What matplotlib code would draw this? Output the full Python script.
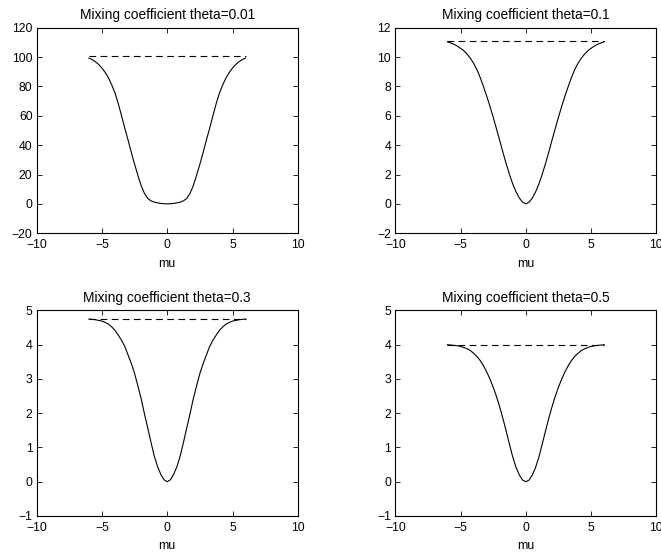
import matplotlib
matplotlib.use('Agg')
import matplotlib.pyplot as plt

#init plt style (matlab look)
plt.rcParams['font.family'] = ['Liberation Sans', 'DejaVu Sans']
plt.rcParams['font.size'] = 8.8
plt.rcParams['xtick.direction'] = 'in'
plt.rcParams['ytick.direction'] = 'in'
plt.rcParams['xtick.top'] = True
plt.rcParams['ytick.right'] = True
plt.rcParams['axes.linewidth'] = 0.8

#data
mu = [-6.0, -5.75, -5.5, -5.25, -5.0, -4.75, -4.5, -4.25, -4.0, -3.75, -3.5, -3.25,
      -3.0, -2.75, -2.5, -2.25, -2.0, -1.75, -1.5, -1.25, -1.0, -0.75, -0.5, -0.25,
      0.0, 0.25, 0.5, 0.75, 1.0, 1.25, 1.5, 1.75, 2.0, 2.25, 2.5, 2.75, 3.0, 3.25,
      3.5, 3.75, 4.0, 4.25, 4.5, 4.75, 5.0, 5.25, 5.5, 5.75, 6.0]

thetas = ['0.01', '0.1', '0.3', '0.5']

info_001 = [99.3, 98.3, 96.8, 95.0, 92.5, 89.5, 85.8, 81.0, 75.5, 68.3, 60.0, 51.5,
            43.5, 35.0, 27.0, 19.5, 12.5, 7.2, 3.8, 2.1, 1.2, 0.7, 0.3, 0.1,
            0.0, 0.1, 0.3, 0.7, 1.2, 2.1, 3.8, 7.2, 12.5, 19.5, 27.0, 35.0, 43.5, 51.5,
            60.0, 68.3, 75.5, 81.0, 85.8, 89.5, 92.5, 95.0, 96.8, 98.3, 99.3]
info_01 = [11.04, 10.96, 10.87, 10.75, 10.60, 10.43, 10.20, 9.92, 9.58, 9.15, 8.62, 8.00,
           7.35, 6.65, 5.90, 5.12, 4.32, 3.50, 2.72, 2.00, 1.35, 0.82, 0.40, 0.12,
           0.0, 0.12, 0.40, 0.82, 1.35, 2.00, 2.72, 3.50, 4.32, 5.12, 5.90, 6.65, 7.35, 8.00,
           8.62, 9.15, 9.58, 9.92, 10.20, 10.43, 10.60, 10.75, 10.87, 10.96, 11.04]
info_03 = [4.75, 4.74, 4.73, 4.71, 4.69, 4.65, 4.60, 4.52, 4.42, 4.28, 4.13, 3.95,
           3.70, 3.45, 3.16, 2.80, 2.43, 1.99, 1.58, 1.16, 0.76, 0.45, 0.22, 0.06,
           0.0, 0.06, 0.22, 0.45, 0.76, 1.16, 1.58, 1.99, 2.43, 2.80, 3.16, 3.45, 3.70, 3.95,
           4.13, 4.28, 4.42, 4.52, 4.60, 4.65, 4.69, 4.71, 4.73, 4.74, 4.75]
info_05 = [4.00, 3.99, 3.98, 3.97, 3.95, 3.92, 3.88, 3.83, 3.75, 3.66, 3.54, 3.39,
           3.21, 3.00, 2.76, 2.49, 2.18, 1.84, 1.47, 1.09, 0.72, 0.42, 0.20, 0.05,
           0.0, 0.05, 0.20, 0.42, 0.72, 1.09, 1.47, 1.84, 2.18, 2.49, 2.76, 3.00, 3.21, 3.39,
           3.54, 3.66, 3.75, 3.83, 3.88, 3.92, 3.95, 3.97, 3.98, 3.99, 4.00]

# dashed upper bound for each theta
bounds = [101.0, 11.1, 4.76, 4.0]

ylims = [(-20, 120), (-2, 12), (-1, 5), (-1, 5)]
ysteps = [20, 2, 1, 1]

# axes boxes in figure fractions [left, bottom, width, height]
boxes = [[0.0555, 0.579, 0.395, 0.371],
         [0.598, 0.579, 0.395, 0.371],
         [0.0555, 0.0686, 0.395, 0.371],
         [0.598, 0.0686, 0.395, 0.371]]

curves = [info_001, info_01, info_03, info_05]

fig = plt.figure(figsize=(6.61, 5.54), dpi=100)

for i in range(4):
    ax = fig.add_axes(boxes[i])
    ax.plot(mu, curves[i], color='black', linewidth=0.8)
    ax.plot([mu[0], mu[-1]], [bounds[i], bounds[i]], color='black',
            linewidth=0.8, dashes=(6, 4))
    ax.set_xlim(-10, 10)
    lo, hi = ylims[i]
    ax.set_ylim(lo, hi)
    ax.set_xticks([-10, -5, 0, 5, 10])
    ax.set_yticks(list(range(lo, hi + 1, ysteps[i])))
    ax.tick_params(length=3.6, width=0.6, pad=3)
    ax.tick_params(axis='x', pad=4.5)
    ax.set_xlabel('mu', fontsize=8.8, labelpad=4.5)
    ax.set_title('Mixing coefficient theta=' + thetas[i], fontsize=9.9, pad=6)

fig.savefig('out.png', dpi=100)
